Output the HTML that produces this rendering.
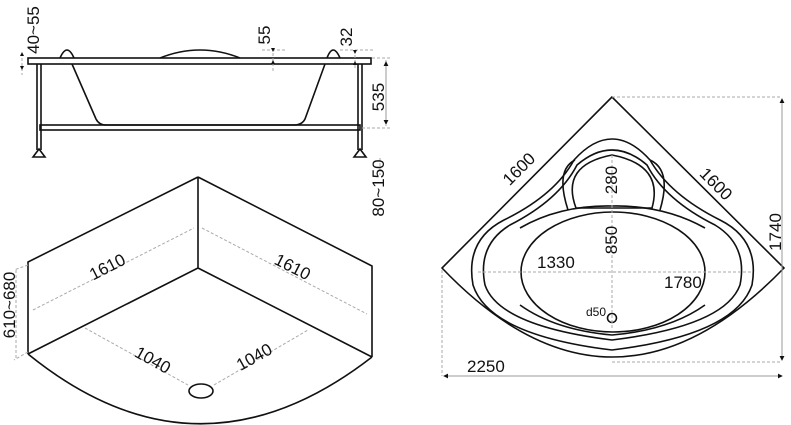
<!DOCTYPE html>
<html><head><meta charset="utf-8"><style>
html,body{margin:0;padding:0;background:#fff;}
svg{display:block;}
text{font-family:"Liberation Sans",Arial,sans-serif;font-size:17px;fill:#111;}
.d{stroke:#aaa;stroke-width:1;stroke-dasharray:3,2;fill:none;}
.l{stroke:#111;stroke-width:1.6;fill:none;}
</style></head><body>
<svg width="791" height="425" viewBox="0 0 791 425" xmlns="http://www.w3.org/2000/svg">
<defs><marker id="a" viewBox="0 0 6 6" refX="5" refY="3" markerWidth="5" markerHeight="5" orient="auto-start-reverse"><path d="M0,0L6,3L0,6z" fill="#111"/></marker></defs>

<!-- side elevation -->
<path class="l" d="M60,58 Q67,42 74,58 M327,58 Q333,42 340,58 M160,58 Q200,42 240,58"/>
<rect class="l" x="28" y="58" width="343" height="6" fill="#fff"/>
<path class="l" d="M72,64 L96,119 Q99,125 106,125 L294,125 Q302,125 305,119 L325,64"/>
<path class="l" d="M37,64 V150 M41,64 V150 M358,64 V150 M362,64 V150"/>
<rect class="l" x="40" y="125" width="320" height="5"/>
<path class="l" d="M33,157 L39,149 L45,157Z M354,157 L360,149 L366,157Z" fill="#fff"/>
<path class="d" d="M372,58 H390 M362,128 H390 M386,60 V126 M22,58 V75 M273,48 V72 M285,50 H260 M355,50 V68 M340,50 H375 M380,158 V175"/>
<line x1="386" y1="62" x2="386" y2="124" stroke="#999" marker-start="url(#a)" marker-end="url(#a)"/>
<text transform="translate(384,97) rotate(-90)" text-anchor="middle">535</text>
<text transform="translate(384,188) rotate(-90)" text-anchor="middle">80~150</text>
<text transform="translate(39,30) rotate(-90)" text-anchor="middle">40~55</text>
<text transform="translate(270,35) rotate(-90)" text-anchor="middle">55</text>
<text transform="translate(352,37) rotate(-90)" text-anchor="middle">32</text>
<path d="M273,52l-2,-4h4z M273,60l-2,4h4z M355,54l-2,-4h4z M355,61l-2,4h4z M22,52l-2,4h4z M22,70l-2,-4h4z" fill="#111"/>

<!-- iso panel -->
<path class="l" d="M198,177 L28,262 V354 M198,177 L372,266 V357 M198,177 V268 L28,354 M198,268 L372,357 M28,354 Q198,492 372,357"/>
<ellipse class="l" cx="201" cy="391" rx="12" ry="7"/>
<path class="d" d="M33,310 L194,228 M202,228 L367,314 M85,328 L188,385 M214,385 L308,330 M16,270 V360 M28,265 L14,270 M28,352 L14,360"/>
<text transform="translate(110,272) rotate(-27)" text-anchor="middle">1610</text>
<text transform="translate(290,272) rotate(27)" text-anchor="middle">1610</text>
<text transform="translate(150,365) rotate(29)" text-anchor="middle">1040</text>
<text transform="translate(257,362) rotate(-29)" text-anchor="middle">1040</text>
<text transform="translate(15,305) rotate(-90)" text-anchor="middle">610~680</text>

<!-- plan view -->
<path class="l" d="M612,97 L442,268 Q612,446 784,268 Z"/>
<path class="l" d="M574,160 Q612,118 650,160 Q670,195 720,220 Q760,240 752,285 Q735,335 612,350 Q489,335 473,285 Q465,240 504,220 Q555,195 574,160Z"/>
<path class="l" d="M577,165 Q612,135 647,165 Q665,200 715,225 Q748,245 740,285 Q725,326 612,340 Q499,326 485,285 Q477,245 510,225 Q559,200 577,165Z"/>
<path class="l" d="M576,208 Q560,165 612,155 Q664,165 652,208 Z"/>
<path class="l" d="M568,210 Q555,170 575,160 M660,210 Q672,170 650,160"/>
<path class="l" d="M520,228 Q560,205 612,206 Q664,205 705,228 M520,305 Q555,330 612,335 Q670,330 705,305"/>
<ellipse class="l" cx="613" cy="272" rx="92" ry="60"/>
<circle class="l" cx="612" cy="318" r="4.5"/>
<path class="d" d="M478,272 H752 M612,155 V330 M612,97 H782 M612,362 H782 M442,270 V376"/>
<line x1="782" y1="99" x2="782" y2="360" stroke="#999" marker-start="url(#a)" marker-end="url(#a)"/>
<line x1="444" y1="376" x2="782" y2="376" stroke="#999" marker-start="url(#a)" marker-end="url(#a)"/>
<text transform="translate(781,232) rotate(-90)" text-anchor="middle">1740</text>
<text x="467" y="372">2250</text>
<text transform="translate(523,173) rotate(-45)" text-anchor="middle">1600</text>
<text transform="translate(712,188) rotate(45)" text-anchor="middle">1600</text>
<text transform="translate(617,180) rotate(-90)" text-anchor="middle">280</text>
<text transform="translate(617,240) rotate(-90)" text-anchor="middle">850</text>
<text x="537" y="268">1330</text>
<text x="664" y="288">1780</text>
<text x="586" y="316" style="font-size:12px">d50</text>
</svg>
</body></html>
